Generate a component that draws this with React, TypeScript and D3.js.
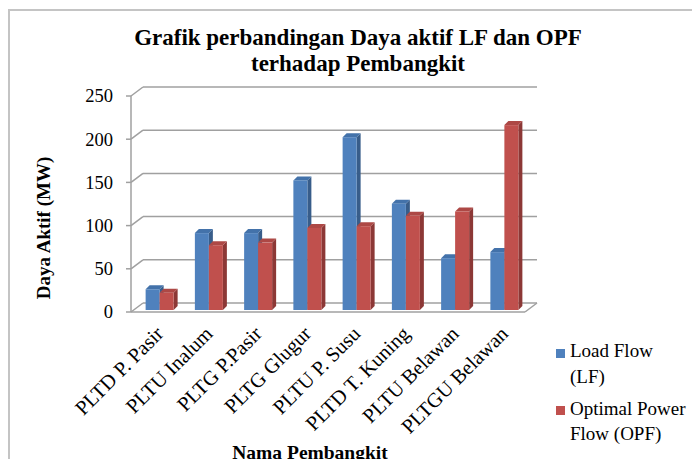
import React from "react";
import * as d3 from "d3";

const categories = [
  "PLTD P. Pasir",
  "PLTU Inalum",
  "PLTG P.Pasir",
  "PLTG Glugur",
  "PLTU P. Susu",
  "PLTD T. Kuning",
  "PLTU Belawan",
  "PLTGU Belawan",
];
const lfValues = [24, 89, 89, 150, 200, 123, 60, 67];
const opfValues = [20, 75, 78, 95, 97, 109, 114, 214];
const yTicks = [0, 50, 100, 150, 200, 250];
const seriesNames = ["Load Flow (LF)", "Optimal Power Flow (OPF)"];

const W = 692;
const H = 459;
const FONT = "'Liberation Serif', 'Times New Roman', serif";

// 3D geometry
const DX = 12;
const DY = -9;
const BAR_SHIFT_X = 3;
const BAR_SHIFT_Y = -2;
const BAR_DX = 4;
const BAR_DY = -4;
const BAR_W = 14;

const colors = {
  LF: { front: "#4F81BD", side: "#385D8A", top: "#4372AA" },
  OPF: { front: "#C0504D", side: "#8C3836", top: "#AD4845" },
};

export default function App() {
  const x = d3.scaleBand<string>().domain(categories).range([131, 525]).padding(0);
  const yFront = d3.scaleLinear().domain([0, 250]).range([312, 96]);
  const bw = x.bandwidth();

  const gridColor = "#a0a0a0";

  const bars: React.ReactNode[] = [];
  categories.forEach((c, i) => {
    const groupStart = (x(c) as number) + bw / 2 - BAR_W + 1 + BAR_SHIFT_X;
    const series = [
      { key: "LF", v: lfValues[i], col: colors.LF },
      { key: "OPF", v: opfValues[i], col: colors.OPF },
    ];
    series.forEach((s, j) => {
      const bx = groupStart + j * BAR_W;
      const y0 = yFront(0) + BAR_SHIFT_Y;
      const yt = yFront(s.v) + BAR_SHIFT_Y;
      const side = [
        [bx + BAR_W, yt],
        [bx + BAR_W + BAR_DX, yt + BAR_DY],
        [bx + BAR_W + BAR_DX, y0 + BAR_DY],
        [bx + BAR_W, y0],
      ];
      const top = [
        [bx, yt],
        [bx + BAR_DX, yt + BAR_DY],
        [bx + BAR_W + BAR_DX, yt + BAR_DY],
        [bx + BAR_W, yt],
      ];
      bars.push(
        <g key={`${c}-${s.key}`}>
          <polygon points={side.map((p) => p.join(",")).join(" ")} fill={s.col.side} />
          <polygon points={top.map((p) => p.join(",")).join(" ")} fill={s.col.top} />
          <rect x={bx} y={yt} width={BAR_W} height={y0 - yt} fill={s.col.front} />
        </g>
      );
    });
  });

  const x0 = 131;
  const x1 = 525;

  return (
    <svg
      width={W}
      height={H}
      style={{ position: "absolute", left: 0, top: 0, background: "#fff" }}
      fontFamily={FONT}
    >
      <rect x={0} y={0} width={W} height={H} fill="#fff" />
      {/* outer border */}
      <rect x={9} y={10} width={720} height={480} fill="none" stroke="#c4c4c4" strokeWidth={2} />

      {/* title */}
      <text x={358} y={45} textAnchor="middle" fontSize={23} fontWeight="bold" fill="#000">
        Grafik perbandingan Daya aktif LF dan OPF
      </text>
      <text x={358} y={71} textAnchor="middle" fontSize={23} fontWeight="bold" fill="#000">
        terhadap Pembangkit
      </text>

      {/* gridlines: side wall diagonals + back wall */}
      {yTicks.map((t) => {
        const yf = yFront(t);
        return (
          <g key={t}>
            <line x1={x0 + DX} y1={yf + DY} x2={x1 + DX} y2={yf + DY} stroke={gridColor} strokeWidth={1.5} />
            <line x1={x0} y1={yf} x2={x0 + DX} y2={yf + DY} stroke={gridColor} strokeWidth={1.5} />
            <line x1={x0 - 5} y1={yf} x2={x0} y2={yf} stroke={gridColor} strokeWidth={1.5} />
            <text x={113} y={yf} dy="0.35em" textAnchor="end" fontSize={18.5} fill="#000">
              {t}
            </text>
          </g>
        );
      })}
      {/* floor */}
      <line x1={x0} y1={yFront(0)} x2={x1} y2={yFront(0)} stroke={gridColor} strokeWidth={1.5} />
      <line x1={x1} y1={yFront(0)} x2={x1 + DX} y2={yFront(0) + DY} stroke={gridColor} strokeWidth={1.5} />
      {/* vertical axis */}
      <line x1={x0} y1={yFront(250)} x2={x0} y2={yFront(0)} stroke={gridColor} strokeWidth={1.5} />

      {bars}

      {/* x labels */}
      {categories.map((c) => {
        const cx = (x(c) as number) + bw / 2 + 9;
        const cy = 335;
        return (
          <text
            key={c}
            x={cx}
            y={cy}
            textAnchor="end"
            fontSize={20.5}
            fill="#000"
            transform={`rotate(-45 ${cx} ${cy})`}
          >
            {c}
          </text>
        );
      })}

      {/* axis titles */}
      <text
        x={0}
        y={0}
        transform={`translate(50 228) rotate(-90)`}
        textAnchor="middle"
        fontSize={19}
        fontWeight="bold"
        fill="#000"
      >
        Daya Aktif (MW)
      </text>
      <text x={310} y={459} textAnchor="middle" fontSize={19.5} fontWeight="bold" fill="#000">
        Nama Pembangkit
      </text>

      {/* legend */}
      <rect x={556} y={349} width={9} height={9} fill={colors.LF.front} />
      <text x={570} y={357} fontSize={19} fill="#000">
        Load Flow
      </text>
      <text x={570} y={383} fontSize={19} fill="#000">
        (LF)
      </text>
      <rect x={556} y={406} width={9} height={9} fill={colors.OPF.front} />
      <text x={570} y={415} fontSize={19} fill="#000">
        Optimal Power
      </text>
      <text x={570} y={440} fontSize={19} fill="#000">
        Flow (OPF)
      </text>
      <title>{seriesNames.join(" / ")}</title>
    </svg>
  );
}
